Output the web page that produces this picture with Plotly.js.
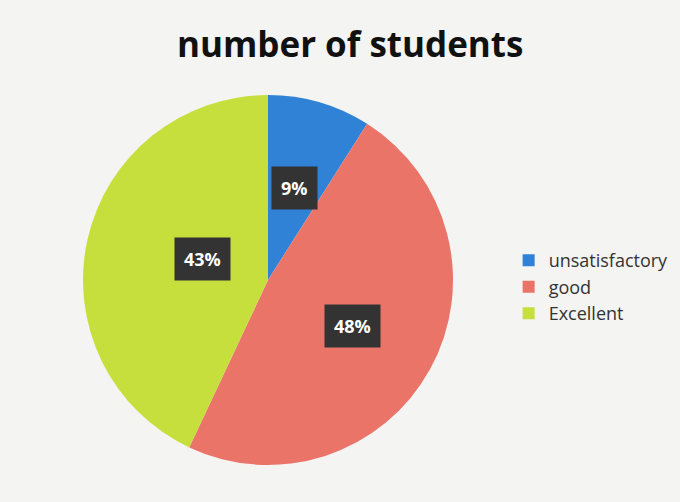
<!DOCTYPE html>
<html><head><meta charset="utf-8">
<script src="https://cdn.plot.ly/plotly-3.0.1.min.js"></script>
<style>html,body{margin:0;padding:0;background:#f4f4f2;}</style>
</head><body>
<div id="chart" style="width:680px;height:502px;"></div>
<script>
const categories = ["unsatisfactory", "good", "Excellent"];
const values = [9, 48, 43];
const colors = ["#2f82d6", "#ea7468", "#c6df3c"];

const W = 680, H = 502;
const cxPx = 268, cyPx = 280, rPx = 185;
const domX = [(cxPx - rPx) / W, (cxPx + rPx) / W];
const domY = [1 - (cyPx + rPx) / H, 1 - (cyPx - rPx) / H];

const total = values.reduce((a, b) => a + b, 0);
let cum = 0;
const annotations = values.map((v, i) => {
  const mid = (cum + v / 2) / total * 2 * Math.PI;
  cum += v;
  const cx = (domX[0] + domX[1]) / 2, cy = (domY[0] + domY[1]) / 2;
  const rx = (domX[1] - domX[0]) / 2, ry = (domY[1] - domY[0]) / 2;
  const f = 0.52;
  return {
    xref: 'paper', yref: 'paper',
    x: cx + f * rx * Math.sin(mid), y: cy + f * ry * Math.cos(mid),
    text: '<b>' + Math.round(v / total * 100) + '%</b>',
    showarrow: false,
    font: {family: 'Open Sans, sans-serif', size: 18, color: '#ffffff'},
    bgcolor: '#333333', borderpad: 9
  };
});

const trace = {
  type: 'pie', labels: categories, values: values,
  marker: {colors: colors, line: {width: 0}},
  sort: false, direction: 'clockwise', rotation: 0,
  textinfo: 'none', hoverinfo: 'label+percent',
  domain: {x: domX, y: domY}
};

const layout = {
  width: W, height: H,
  margin: {l: 0, r: 0, t: 0, b: 0},
  paper_bgcolor: '#f4f4f2', plot_bgcolor: '#f4f4f2',
  title: {text: '<b>number of students</b>', x: 0.515, xanchor: 'center', y: 0.91, yanchor: 'middle',
    font: {family: 'Open Sans, sans-serif', size: 35, color: '#111111'}},
  showlegend: true,
  legend: {x: 0.748, y: 0.428, xanchor: 'left', yanchor: 'middle',
    font: {family: 'Open Sans, sans-serif', size: 18, color: '#333333'},
    bgcolor: 'rgba(0,0,0,0)', itemwidth: 30, tracegroupgap: 0},
  annotations: annotations
};

Plotly.newPlot('chart', [trace], layout, {displayModeBar: false, staticPlot: true});
</script>
</body></html>
